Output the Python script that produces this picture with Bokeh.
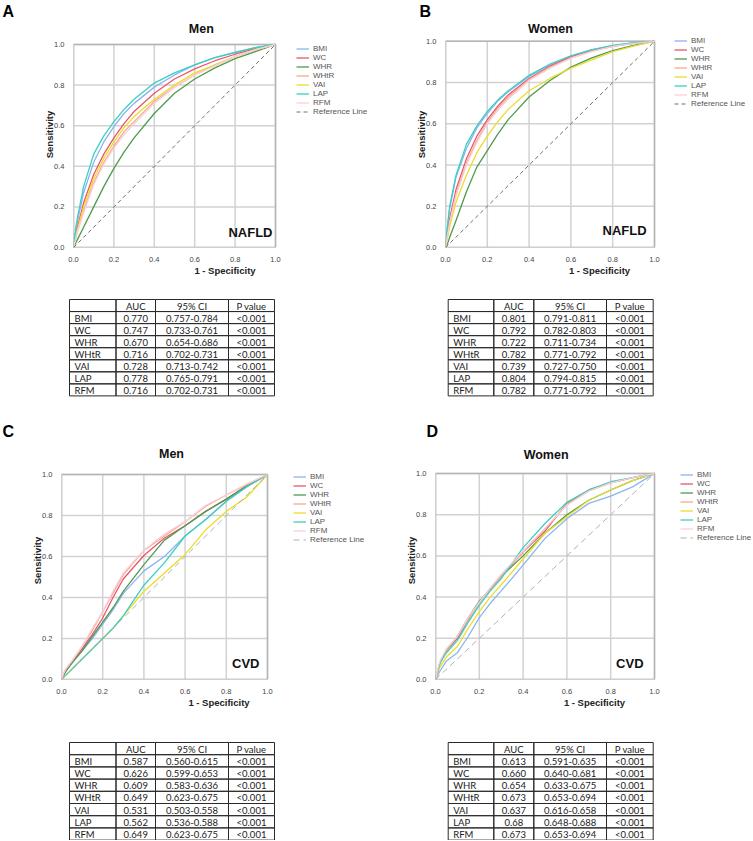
from bokeh.plotting import figure
from bokeh.models import Range1d, Label, Legend, LegendItem, ColumnDataSource, FixedTicker, PrintfTickFormatter
from bokeh.layouts import column, row
from bokeh.embed import file_html
from bokeh.resources import INLINE
from bokeh.core.properties import value

# ---------------- data ----------------
indices = ["BMI", "WC", "WHR", "WHtR", "VAI", "LAP", "RFM"]
line_colors = ["#8ab4f0", "#e8566e", "#4f9a4f", "#f4aa8c", "#ecdc2a", "#3ccfc0", "#f7cfdc"]

fpr = [0, 0.01, 0.02, 0.05, 0.1, 0.15, 0.2, 0.25, 0.3, 0.4, 0.5, 0.6, 0.7, 0.8, 0.9, 1.0]

# Panel A: Men, NAFLD
tpr_A_BMI  = [0, .07, .13, .27, .42, .52, .595, .66, .71, .79, .85, .90, .935, .962, .985, 1]
tpr_A_WC   = [0, .05, .10, .22, .36, .46, .54, .61, .67, .76, .83, .88, .92, .952, .98, 1]
tpr_A_WHR  = [0, .02, .04, .10, .20, .30, .39, .47, .54, .66, .76, .83, .885, .93, .965, 1]
tpr_A_WHtR = [0, .04, .08, .18, .32, .42, .50, .57, .62, .72, .79, .85, .90, .94, .975, 1]
tpr_A_VAI  = [0, .05, .09, .20, .34, .44, .52, .59, .645, .73, .80, .86, .90, .94, .975, 1]
tpr_A_LAP  = [0, .09, .15, .30, .46, .55, .62, .68, .73, .81, .86, .90, .935, .96, .985, 1]
tpr_A_RFM  = [0, .04, .08, .17, .31, .41, .49, .555, .61, .71, .79, .85, .895, .94, .975, 1]

# Panel B: Women, NAFLD
tpr_B_BMI  = [0, .10, .19, .34, .48, .58, .65, .71, .755, .83, .885, .928, .958, .978, .992, 1]
tpr_B_WC   = [0, .07, .14, .28, .43, .54, .62, .685, .74, .82, .88, .925, .955, .977, .99, 1]
tpr_B_WHR  = [0, .02, .05, .13, .27, .39, .47, .55, .62, .73, .81, .875, .92, .955, .98, 1]
tpr_B_WHtR = [0, .06, .12, .26, .41, .52, .61, .675, .73, .815, .875, .92, .953, .975, .99, 1]
tpr_B_VAI  = [0, .05, .10, .22, .35, .46, .54, .61, .67, .76, .82, .87, .91, .95, .977, 1]
tpr_B_LAP  = [0, .11, .20, .35, .50, .59, .66, .715, .76, .835, .89, .93, .96, .98, .993, 1]
tpr_B_RFM  = [0, .06, .12, .25, .40, .51, .60, .665, .72, .81, .87, .918, .95, .975, .99, 1]

# Panel C: Men, CVD
tpr_C_BMI  = [0, .02, .04, .08, .14, .20, .27, .34, .42, .53, .60, .70, .78, .87, .94, 1]
tpr_C_WC   = [0, .02, .04, .08, .15, .22, .30, .40, .49, .605, .69, .75, .82, .88, .945, 1]
tpr_C_WHR  = [0, .02, .04, .08, .14, .21, .28, .35, .43, .56, .68, .75, .82, .88, .945, 1]
tpr_C_WHtR = [0, .03, .05, .09, .16, .24, .33, .42, .51, .63, .70, .77, .845, .90, .95, 1]
tpr_C_VAI  = [0, .01, .02, .05, .10, .15, .20, .25, .31, .43, .52, .61, .73, .82, .89, 1]
tpr_C_LAP  = [0, .01, .02, .05, .10, .15, .20, .25, .31, .46, .57, .70, .78, .87, .94, 1]
tpr_C_RFM  = [0, .03, .05, .09, .16, .25, .33, .43, .52, .63, .71, .77, .85, .90, .955, 1]

# Panel D: Women, CVD
tpr_D_BMI  = [0, .02, .04, .09, .13, .21, .30, .37, .43, .555, .685, .78, .855, .89, .935, 1]
tpr_D_WC   = [0, .04, .08, .14, .20, .29, .375, .44, .50, .62, .72, .855, .92, .955, .98, 1]
tpr_D_WHR  = [0, .04, .08, .14, .21, .30, .38, .44, .50, .60, .71, .80, .87, .92, .965, 1]
tpr_D_WHtR = [0, .04, .08, .14, .21, .29, .37, .44, .50, .62, .73, .85, .915, .955, .98, 1]
tpr_D_VAI  = [0, .03, .06, .11, .16, .25, .33, .40, .46, .585, .71, .79, .87, .92, .965, 1]
tpr_D_LAP  = [0, .04, .08, .13, .19, .28, .36, .43, .49, .64, .757, .86, .92, .96, .98, 1]
tpr_D_RFM  = [0, .05, .09, .15, .21, .30, .375, .445, .51, .625, .735, .846, .915, .955, .98, 1]

ref_x = [0, 1]
ref_y = [0, 1]
axis_ticks = [0, 0.2, 0.4, 0.6, 0.8, 1.0]

# Tables
table_header = ["", "AUC", "95% CI", "P value"]
auc_A = ["0.770", "0.747", "0.670", "0.716", "0.728", "0.778", "0.716"]
ci_A = ["0.757-0.784", "0.733-0.761", "0.654-0.686", "0.702-0.731", "0.713-0.742", "0.765-0.791", "0.702-0.731"]
auc_B = ["0.801", "0.792", "0.722", "0.782", "0.739", "0.804", "0.782"]
ci_B = ["0.791-0.811", "0.782-0.803", "0.711-0.734", "0.771-0.792", "0.727-0.750", "0.794-0.815", "0.771-0.792"]
auc_C = ["0.587", "0.626", "0.609", "0.649", "0.531", "0.562", "0.649"]
ci_C = ["0.560-0.615", "0.599-0.653", "0.583-0.636", "0.623-0.675", "0.503-0.558", "0.536-0.588", "0.623-0.675"]
auc_D = ["0.613", "0.660", "0.654", "0.673", "0.637", "0.68", "0.673"]
ci_D = ["0.591-0.635", "0.640-0.681", "0.633-0.675", "0.653-0.694", "0.616-0.658", "0.648-0.688", "0.653-0.694"]
pval = ["<0.001"] * 7

FONT = "Liberation Sans"
TOP_BORDER = 21  # room for the panel letter


def roc_fig(w, h, box_left, box_w, box_top, box_h, curves, title, letter, disease,
            letter_off, title_xy, disease_xy, legend_xy, ref_color, ref_dash):
    # the frame runs from the box's left edge to the figure's right edge and
    # from just under the panel letter down to the box's bottom edge
    frame_w = w - box_left
    frame_h = box_top + box_h - TOP_BORDER
    p = figure(width=w, height=h,
               x_range=Range1d(0, frame_w / box_w), y_range=Range1d(0, frame_h / box_h),
               output_backend="svg", toolbar_location=None,
               min_border_left=box_left, min_border_right=0,
               min_border_top=TOP_BORDER, min_border_bottom=h - box_top - box_h)
    p.outline_line_color = None
    p.grid.visible = False
    for ax in (p.xaxis[0], p.yaxis[0]):
        ax.ticker = FixedTicker(ticks=axis_ticks)
        ax.bounds = (0, 1)
        ax.formatter = PrintfTickFormatter(format="%.1f")
        ax.axis_line_color = None
        ax.major_tick_line_color = None
        ax.minor_tick_line_color = None
        ax.major_label_text_font = FONT
        ax.major_label_text_font_size = "7.5px"
        ax.major_label_text_color = "#444444"
        ax.major_label_standoff = 3
        ax.axis_label_text_font = FONT
        ax.axis_label_text_font_size = "9.5px"
        ax.axis_label_text_font_style = "bold"
        ax.axis_label_text_color = "#222222"
    p.xaxis.axis_label = "1 - Specificity"
    p.yaxis.axis_label = "Sensitivity"
    p.xaxis.axis_label_standoff = 0
    p.yaxis.axis_label_standoff = -4

    # grid lines at the axis ticks, limited to the unit box
    p.segment(x0=axis_ticks, y0=0, x1=axis_ticks, y1=1, line_color="#d2d2d2", line_width=1.5)
    p.segment(x0=0, y0=axis_ticks, x1=1, y1=axis_ticks, line_color="#d2d2d2", line_width=1.5)
    p.quad(left=0, right=1, bottom=0, top=1, fill_color=None, line_color="#b5b5b5", line_width=1.5)

    items = []
    for name, col, ys in zip(indices, line_colors, curves):
        r = p.line(fpr, ys, line_color=col, line_width=1.3)
        items.append(LegendItem(label=name, renderers=[r]))
    rr = p.line(ref_x, ref_y, line_color=ref_color, line_width=1, line_dash=ref_dash)
    items.append(LegendItem(label="Reference Line", renderers=[rr]))

    leg = Legend(items=items, location=legend_xy, label_text_font=FONT,
                 label_text_font_size="8px", label_text_color="#555555",
                 glyph_width=13, glyph_height=9, label_height=9, label_standoff=4,
                 spacing=0, padding=0, margin=0, border_line_color=None,
                 background_fill_alpha=0)
    p.add_layout(leg)

    # panel letter as the figure's title
    p.title.text = letter
    p.title.text_font = FONT
    p.title.text_font_size = "16px"
    p.title.text_font_style = "bold"
    p.title.text_color = "black"
    p.title.align = "left"
    p.title.offset = letter_off
    p.title.vertical_align = "top"
    p.title.standoff = 0

    p.add_layout(Label(x=title_xy[0], y=title_xy[1], text=title, text_font=FONT,
                       text_font_size="12.5px", text_font_style="bold", text_color="#111111",
                       text_align="center", text_baseline="middle"))
    p.add_layout(Label(x=disease_xy[0], y=disease_xy[1], text=disease, text_font=FONT,
                       text_font_size="13px", text_font_style="bold", text_color="#111111",
                       text_align="right", text_baseline="middle"))
    return p


def table_fig(w, h, edges, top, row_h, auc, ci):
    p = figure(width=w, height=h, x_range=Range1d(0, w), y_range=Range1d(h, 0),
               output_backend="svg", toolbar_location=None, min_border=0,
               x_axis_location=None, y_axis_location=None)
    p.grid.visible = False
    p.outline_line_color = None
    lefts, rights, tops, bottoms = [], [], [], []
    rows_text = [table_header] + [[m, a, c, pv] for m, a, c, pv in zip(indices, auc, ci, pval)]
    tx, ty, tt, ta = [], [], [], []
    for r, vals in enumerate(rows_text):
        for c in range(4):
            lefts.append(edges[c]); rights.append(edges[c + 1])
            tops.append(top + r * row_h); bottoms.append(top + (r + 1) * row_h)
            if vals[c]:
                if c == 0:
                    tx.append(edges[0] + 5); ta.append("left")
                else:
                    tx.append((edges[c] + edges[c + 1]) / 2); ta.append("center")
                ty.append(top + (r + 0.5) * row_h + 0.5)
                tt.append(vals[c])
    p.quad(left=lefts, right=rights, top=tops, bottom=bottoms, fill_color=None,
           line_color="#2a2a2a", line_width=1)
    src = ColumnDataSource(dict(x=tx, y=ty, text=tt, align=ta))
    p.text(x="x", y="y", text="text", text_align="align", source=src,
           text_font=value("Lato"), text_font_size="9.5px", text_color="#1a1a1a",
           text_baseline="middle")
    return p


curves_A = [tpr_A_BMI, tpr_A_WC, tpr_A_WHR, tpr_A_WHtR, tpr_A_VAI, tpr_A_LAP, tpr_A_RFM]
curves_B = [tpr_B_BMI, tpr_B_WC, tpr_B_WHR, tpr_B_WHtR, tpr_B_VAI, tpr_B_LAP, tpr_B_RFM]
curves_C = [tpr_C_BMI, tpr_C_WC, tpr_C_WHR, tpr_C_WHtR, tpr_C_VAI, tpr_C_LAP, tpr_C_RFM]
curves_D = [tpr_D_BMI, tpr_D_WC, tpr_D_WHR, tpr_D_WHtR, tpr_D_VAI, tpr_D_LAP, tpr_D_RFM]

# figure-local pixel layout: (box_left, box_w, box_top, box_h)
pA = roc_fig(376, 290, 73, 202, 44, 203, curves_A, "Men", "A", "NAFLD",
             -71, (0.633, 1.074), (0.985, 0.076), (223, 131), "#707070", "4 3")
pB = roc_fig(377, 290, 69, 209, 41, 208, curves_B, "Women", "B", "NAFLD",
             -26, (0.502, 1.058), (0.962, 0.082), (229, 139), "#707070", "4 3")
pC = roc_fig(376, 315, 61, 206, 54, 205, curves_C, "Men", "C", "CVD",
             -59, (0.534, 1.098), (0.961, 0.080), (232, 135), "#b0b0b0", "6 4")
pD = roc_fig(377, 315, 59, 219, 53, 206, curves_D, "Women", "D", "CVD",
             -9, (0.505, 1.092), (0.950, 0.080), (245, 137), "#b0b0b0", "6 4")

edges_left = [69, 115.5, 155, 228, 274]
edges_right = [71.7, 117.3, 157.3, 230, 276.7]

tA = table_fig(376, 130, edges_left, 9, 12.05, auc_A, ci_A)
tB = table_fig(377, 130, edges_right, 9, 12.05, auc_B, ci_B)
tC = table_fig(376, 105, edges_left, 7, 12.2, auc_C, ci_C)
tD = table_fig(377, 105, edges_right, 7, 12.2, auc_D, ci_D)

layout = column(row(pA, pB), row(tA, tB), row(pC, pD), row(tC, tD))

open("out.html", "w").write(file_html(layout, INLINE))
